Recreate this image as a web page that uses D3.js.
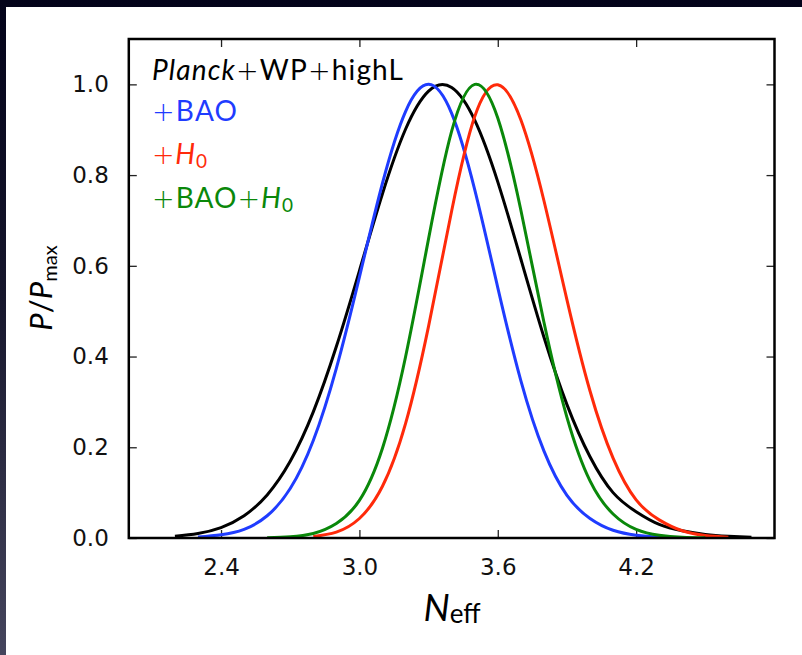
<!DOCTYPE html>
<html>
<head>
<meta charset="utf-8">
<script src="https://cdn.jsdelivr.net/npm/d3@7"></script>
<style>
  body { margin: 0; background: #05051a; }
  svg { display: block; }
</style>
</head>
<body>
<div id="chart"></div>
<script>
// N_eff grid and normalised posteriors
const nEff = [2.2, 2.3, 2.4, 2.5, 2.6, 2.7, 2.8, 2.9, 3.0, 3.1, 3.2, 3.3, 3.4,
  3.5, 3.6, 3.7, 3.8, 3.9, 4.0, 4.1, 4.2, 4.3, 4.4, 4.5, 4.6, 4.7];

const planckWpHighL = [0.004, 0.010, 0.023, 0.049, 0.095, 0.169, 0.278, 0.422,
  0.589, 0.759, 0.901, 0.985, 0.993, 0.921, 0.785, 0.615, 0.443, 0.294, 0.179,
  0.100, 0.058, 0.030, 0.016, 0.008, 0.004, 0.0015];

const plusBao = [null, 0.002, 0.007, 0.019, 0.049, 0.109, 0.215, 0.374, 0.575,
  0.782, 0.940, 1.0, 0.936, 0.768, 0.552, 0.347, 0.192, 0.094, 0.043, 0.017,
  0.006, 0.002, 0.0005, null, null, null];

const plusH0 = [null, null, null, null, null, null, 0.0035, 0.013, 0.043, 0.114,
  0.252, 0.467, 0.721, 0.929, 0.999, 0.922, 0.744, 0.525, 0.324, 0.176, 0.084,
  0.040, 0.016, 0.0055, 0.0018, null];

const plusBaoH0 = [null, null, null, null, 0.0003, 0.0025, 0.010, 0.032, 0.083,
  0.198, 0.399, 0.660, 0.897, 1.0, 0.926, 0.723, 0.476, 0.266, 0.126, 0.053,
  0.019, 0.006, 0.0015, 0.0003, null, null];

const xTicks = [2.4, 3.0, 3.6, 4.2];
const yTicks = [0, 0.2, 0.4, 0.6, 0.8, 1.0];

const width = 802;
const height = 655;
const margin = { top: 39, right: 27.5, bottom: 117, left: 128.8 };

const series = [
  { values: planckWpHighL, color: "#000000" },
  { values: plusBao, color: "#1f3cff" },
  { values: plusH0, color: "#ff2a0a" },
  { values: plusBaoH0, color: "#0a880a" },
];

const legendItems = [
  { parts: [{ t: "Planck", it: true }, { t: "+", plus: true }, { t: "WP" }, { t: "+", plus: true }, { t: "highL" }], color: "#000000", y: 80, len: 251 },
  { parts: [{ t: "+", plus: true }, { t: "BAO" }], color: "#1f3cff", y: 121, len: 85 },
  { parts: [{ t: "+", plus: true }, { t: "H", it: true }, { t: "0", sub: true }], color: "#ff2a0a", y: 164, len: 55 },
  { parts: [{ t: "+", plus: true }, { t: "BAO" }, { t: "+", plus: true }, { t: "H", it: true }, { t: "0", sub: true }], color: "#0a880a", y: 208, len: 141 },
];

const labelFont = "Lato, 'Open Sans', sans-serif";
const tickFont = "'DejaVu Sans', sans-serif";

const xScale = d3
  .scaleLinear()
  .domain([2.0, 4.8])
  .range([margin.left, width - margin.right]);

const yScale = d3
  .scaleLinear()
  .domain([0, 1.1])
  .range([height - margin.bottom, margin.top]);

const svg = d3
  .select("#chart")
  .append("svg")
  .attr("width", width)
  .attr("height", height);

// dark slide background with white panel
const grad = svg
  .append("defs")
  .append("linearGradient")
  .attr("id", "bg")
  .attr("x1", 0).attr("y1", 0).attr("x2", 0).attr("y2", 1);
grad.append("stop").attr("offset", "0%").attr("stop-color", "#03031a");
grad.append("stop").attr("offset", "45%").attr("stop-color", "#16162c");
grad.append("stop").attr("offset", "100%").attr("stop-color", "#45455d");

svg.append("rect").attr("width", width).attr("height", height).attr("fill", "url(#bg)");
svg.append("rect").attr("x", 6).attr("y", 7).attr("width", width - 6).attr("height", height - 7).attr("fill", "#ffffff");

svg
  .append("clipPath")
  .attr("id", "plot-clip")
  .append("rect")
  .attr("x", margin.left)
  .attr("y", margin.top)
  .attr("width", width - margin.left - margin.right)
  .attr("height", height - margin.top - margin.bottom);

// axes with inward ticks on all four sides
const styleAxis = (g) => {
  g.select(".domain").remove();
  g.selectAll(".tick line").attr("stroke", "#222").attr("stroke-width", 1.3);
  g.selectAll(".tick text")
    .attr("fill", "#111")
    .style("font-family", tickFont)
    .style("font-size", "23px");
};

svg
  .append("g")
  .attr("transform", `translate(0, ${yScale(0)})`)
  .call(d3.axisBottom(xScale).tickValues(xTicks).tickSize(-8).tickPadding(21).tickFormat(d3.format(".1f")))
  .call(styleAxis);

svg
  .append("g")
  .attr("transform", `translate(0, ${yScale(1.1)})`)
  .call(d3.axisTop(xScale).tickValues(xTicks).tickSize(-8).tickFormat(""))
  .call(styleAxis);

svg
  .append("g")
  .attr("transform", `translate(${xScale(2.0)}, 0)`)
  .call(d3.axisLeft(yScale).tickValues(yTicks).tickSize(-8).tickPadding(20).tickFormat(d3.format(".1f")))
  .call(styleAxis);

svg
  .append("g")
  .attr("transform", `translate(${xScale(4.8)}, 0)`)
  .call(d3.axisRight(yScale).tickValues(yTicks).tickSize(-8).tickFormat(""))
  .call(styleAxis);

// curves
const lineGenerator = d3
  .line()
  .x((d) => xScale(d[0]))
  .y((d) => yScale(d[1]))
  .curve(d3.curveNatural);

svg
  .append("g")
  .attr("clip-path", "url(#plot-clip)")
  .selectAll("path")
  .data(series)
  .join("path")
  .attr("fill", "none")
  .attr("stroke", (d) => d.color)
  .attr("stroke-width", 3)
  .attr("stroke-linejoin", "round")
  .attr("d", (d) => lineGenerator(nEff.map((x, i) => [x, d.values[i]]).filter((p) => p[1] !== null)));

// frame
svg
  .append("rect")
  .attr("x", xScale(2.0))
  .attr("y", yScale(1.1))
  .attr("width", xScale(4.8) - xScale(2.0))
  .attr("height", yScale(0) - yScale(1.1))
  .attr("fill", "none")
  .attr("stroke", "#000")
  .attr("stroke-width", 2.5);

// legend as coloured text
const legend = svg
  .append("g")
  .selectAll("text")
  .data(legendItems)
  .join("text")
  .attr("x", 152)
  .attr("y", (d) => d.y)
  .attr("fill", (d) => d.color)
  .attr("textLength", (d) => d.len)
  .attr("lengthAdjust", "spacing")
  .style("font-family", labelFont)
  .style("font-size", "28px");

legend.each(function (d) {
  const t = d3.select(this);
  let shifted = false;
  d.parts.forEach((p) => {
    const span = t.append("tspan").text(p.t);
    if (p.it) span.style("font-style", "italic");
    if (p.plus) span.style("font-family", "'DejaVu Sans', sans-serif").style("font-weight", 200).style("font-size", "27px");
    if (p.sub) {
      span.style("font-size", "19px").attr("dy", 4);
      shifted = true;
    } else if (shifted) {
      span.attr("dy", -4);
      shifted = false;
    }
  });
});

// axis titles
const xTitle = svg
  .append("text")
  .attr("x", 452)
  .attr("y", 621)
  .attr("text-anchor", "middle")
  .attr("fill", "#000")
  .style("font-family", labelFont);
xTitle.append("tspan").text("N").style("font-style", "italic").style("font-size", "37px");
xTitle.append("tspan").text("eff").style("font-size", "26px").attr("dy", 2);

const yTitle = svg
  .append("text")
  .attr("transform", "translate(52, 288) rotate(-90)")
  .attr("text-anchor", "middle")
  .attr("fill", "#000")
  .style("font-family", labelFont)
  .style("font-size", "31px");
yTitle.append("tspan").text("P").style("font-style", "italic");
yTitle.append("tspan").text("/");
yTitle.append("tspan").text("P").style("font-style", "italic");
yTitle.append("tspan").text("max").style("font-size", "20px").attr("dy", 5);
</script>
</body>
</html>
